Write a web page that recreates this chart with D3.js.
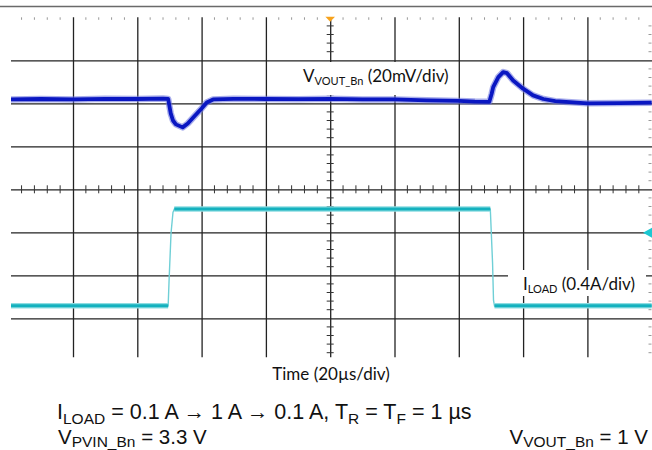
<!DOCTYPE html>
<html>
<head>
<meta charset="utf-8">
<script src="https://d3js.org/d3.v7.min.js"></script>
<style>
html,body{margin:0;padding:0;background:#fff;}
svg{display:block;}
</style>
</head>
<body>
<svg id="chart" width="652" height="450"></svg>
<script>
// ---- data ----
// time axis: 20 µs/div, 10 divisions
const timeGrid = [-80, -60, -40, -20, 0, 20, 40, 60, 80];
const divGrid = [-3, -2, -1, 0, 1, 2, 3];

// V_VOUT_Bn deviation (mV), 20 mV/div
const voutTime = [-100, -90, -80, -70, -60, -52, -50.4, -49.6, -48.9, -48.0, -45.9, -44.3, -42.6, -40.0, -38.4, -36.4, -30, -20, -10, 0, 10, 20, 30, 40, 45, 49.5, 50.2, 50.7, 52.3, 53.8, 55, 56.9, 60.0, 63.1, 66.3, 70, 80, 90, 100];
const voutMv   = [0, 0.2, 0, 0.3, 0.2, 0.4, 0.2, -6.5, -9.8, -11.6, -13.0, -11.2, -8.4, -4.2, -1.4, 0, 0.3, 0.2, 0.1, 0.3, 0, 0, -0.4, -0.7, -1.0, -1.1, 2.5, 5.7, 10.4, 12.7, 12.2, 8.8, 5.0, 1.9, 0.2, -0.8, -1.8, -1.7, -1.5];

// I_LOAD (A), 0.4 A/div
const iloadTime = [-100, -50.4, -50.1, -49.5, -48.9, -48.5, 49.8, 50.5, 50.8, 51.1, 100];
const iloadAmp  = [0.1, 0.1, 0.35, 0.78, 0.97, 1.0, 1.0, 0.5, 0.15, 0.1, 0.1];

// channel settings
const voutScaleMv = 20, voutOffsetDiv = 2.09;
const iloadScaleA = 0.4, iloadOffsetDiv = -2.96;
const iloadMarkerDiv = -1;

const labelVout = {main: "V", sub: "VOUT_Bn", rest: " (20mV/div)"};
const labelIload = {main: "I", sub: "LOAD", rest: " (0.4A/div)"};
const timeLabel = "Time (20µs/div)";

// ---- drawing ----
const svg = d3.select("#chart");
const x = d3.scaleLinear().domain([-100, 100]).range([8.7, 651.7]);
const y = d3.scaleLinear().domain([-4, 4]).range([361.3, 17.3]);
const plotLeft = 11, plotRight = 652;

// top border line
svg.append("line").attr("x1", 0).attr("x2", 652).attr("y1", 6.5).attr("y2", 6.5)
  .attr("stroke", "#6a6a6a").attr("stroke-width", 1.6);

const grid = svg.append("g");
// vertical grid lines via axis
const vAxis = grid.append("g").attr("transform", `translate(0,${y(4)})`)
  .call(d3.axisBottom(x).tickValues(timeGrid).tickSize(y(-4) - y(4) - 4).tickFormat(""));
vAxis.select(".domain").remove();
vAxis.selectAll(".tick line").attr("stroke", "#222").attr("stroke-width", 1.3);

// horizontal grid lines via axis
const hAxis = grid.append("g").attr("transform", `translate(${plotLeft},0)`)
  .call(d3.axisRight(y).tickValues(divGrid).tickSize(plotRight - plotLeft).tickFormat(""));
hAxis.select(".domain").remove();
hAxis.selectAll(".tick line").attr("stroke", "#222").attr("stroke-width", 1.3);

// minor ticks
const minorT = d3.range(-100, 100.01, 4).filter(t => t > -99);
const minorD = d3.range(-4, 4.01, 0.2).filter(d => d > -4 && d < 4);
grid.selectAll(".mh").data(minorT.filter(t => t % 20 !== 0)).join("line")
  .attr("x1", d => x(d)).attr("x2", d => x(d)).attr("y1", y(0) - 4).attr("y2", y(0) + 4)
  .attr("stroke", "#333").attr("stroke-width", 1);
grid.selectAll(".mv").data(minorD.filter(d => Math.abs(d - Math.round(d)) > 0.01)).join("line")
  .attr("x1", x(0) - 3.5).attr("x2", x(0) + 3.5).attr("y1", d => y(d)).attr("y2", d => y(d))
  .attr("stroke", "#333").attr("stroke-width", 1);
grid.selectAll(".mt").data(minorT.filter(t => t % 20 !== 0)).join("line")
  .attr("x1", d => x(d)).attr("x2", d => x(d)).attr("y1", y(4)).attr("y2", y(4) + 2.5)
  .attr("stroke", "#999").attr("stroke-width", 1);
grid.selectAll(".mr").data(minorD.filter(d => Math.abs(d - Math.round(d)) > 0.01)).join("line")
  .attr("x1", 648.5).attr("x2", 651.5).attr("y1", d => y(d)).attr("y2", d => y(d))
  .attr("stroke", "#999").attr("stroke-width", 1);

// label boxes (white, hide grid)
function drawLabel(lbl, bx, by, bw, bh, tx, ty) {
  svg.append("rect").attr("x", bx).attr("y", by).attr("width", bw).attr("height", bh).attr("fill", "#fff");
  const t = svg.append("text").attr("x", tx).attr("y", ty)
    .attr("font-family", "Lato, 'Open Sans', sans-serif").attr("font-size", 17).attr("fill", "#111");
  t.append("tspan").text(lbl.main);
  t.append("tspan").attr("font-size", 11).attr("dy", 3).text(lbl.sub);
  t.append("tspan").attr("dy", -3).text(lbl.rest);
}
drawLabel(labelVout, 298, 62, 154, 33, 303, 82);
drawLabel(labelIload, 508, 270, 138, 26, 523, 290);

// traces
const clip = svg.append("clipPath").attr("id", "pc").append("rect")
  .attr("x", plotLeft).attr("y", y(4)).attr("width", plotRight - plotLeft).attr("height", y(-4) - y(4));
const traces = svg.append("g").attr("clip-path", "url(#pc)");

const voutPts = voutTime.map((t, i) => [x(t), y(voutOffsetDiv + voutMv[i] / voutScaleMv)]);
const iloadPts = iloadTime.map((t, i) => [x(t), y(iloadOffsetDiv + iloadAmp[i] / iloadScaleA)]);
const line = d3.line();

// I_LOAD: thin edges + thick noisy flat parts
traces.append("path").attr("d", line(iloadPts)).attr("fill", "none")
  .attr("stroke", "#6fcfd6").attr("stroke-width", 1.4);
const flatSegs = d3.pairs(iloadPts).filter(([a, b]) => Math.abs(b[1] - a[1]) < 3);
traces.selectAll(".iflat").data(flatSegs).join("path")
  .attr("d", d => line(d)).attr("fill", "none")
  .attr("stroke", "#8edde2").attr("stroke-width", 5.5).attr("stroke-linecap", "butt");
traces.selectAll(".iflat2").data(flatSegs).join("path")
  .attr("d", d => line(d)).attr("fill", "none")
  .attr("stroke", "#14b1be").attr("stroke-width", 3).attr("stroke-linecap", "butt");

// V_VOUT
traces.append("path").attr("d", line(voutPts)).attr("fill", "none")
  .attr("stroke", "#6f78e0").attr("stroke-width", 6.5).attr("stroke-linejoin", "round").attr("opacity", 0.6);
traces.append("path").attr("d", line(voutPts)).attr("fill", "none")
  .attr("stroke", "#0a17c2").attr("stroke-width", 3.8).attr("stroke-linejoin", "round");

// markers
svg.append("path").attr("d", d3.line()([[x(0) - 4.8, y(4) - 0.6], [x(0) + 4.8, y(4) - 0.6], [x(0), y(4) + 4.4]]) + "Z")
  .attr("fill", "#f7a21c");
const my = y(iloadMarkerDiv) + 0.5;
svg.append("path").attr("d", d3.line()([[652, my - 5], [652, my + 5], [643, my]]) + "Z")
  .attr("fill", "#1cc8d2");

// time label
svg.append("text").attr("x", 331).attr("y", 380).attr("text-anchor", "middle")
  .attr("font-family", "Lato, 'Open Sans', sans-serif").attr("font-size", 17).attr("fill", "#111")
  .text(timeLabel);

// bottom conditions text
function addParts(el, parts, subDy) {
  let cur = 0;
  parts.forEach(([s, sub]) => {
    const ts = el.append("tspan").text(s);
    const target = sub ? subDy : 0;
    ts.attr("dy", target - cur);
    if (sub) ts.attr("font-size", 15.5);
    cur = target;
  });
}
const fontB = "'Liberation Sans', Arial, sans-serif";
const cond = svg.append("text").attr("x", 57).attr("y", 419)
  .attr("font-family", fontB).attr("font-size", 21.5).attr("fill", "#111");
addParts(cond, [["I", 0], ["LOAD", 1], [" = 0.1 A \u2192 1 A \u2192 0.1 A, T", 0], ["R", 1], [" = T", 0], ["F", 1], [" = 1 µs", 0]], 4.5);

const cond2 = svg.append("text").attr("x", 58).attr("y", 443.5)
  .attr("font-family", fontB).attr("font-size", 20.5).attr("fill", "#111");
addParts(cond2, [["V", 0], ["PVIN_Bn", 1], [" = 3.3 V", 0]], 3.5);

const cond3 = svg.append("text").attr("x", 648).attr("y", 443.5).attr("text-anchor", "end")
  .attr("font-family", fontB).attr("font-size", 20.5).attr("fill", "#111");
addParts(cond3, [["V", 0], ["VOUT_Bn", 1], [" = 1 V", 0]], 3.5);
</script>
</body>
</html>
